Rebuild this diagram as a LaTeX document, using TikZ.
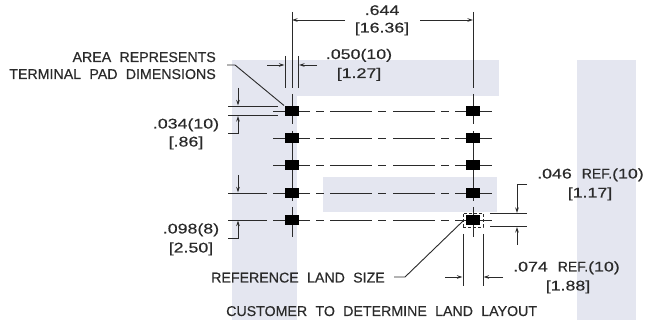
\documentclass[tikz,border=0pt]{standalone}
\usepackage{fontspec}
\setmainfont[WordSpace=2.1,FakeBold=0.35]{Liberation Sans}
\newfontfamily\dimfont[FakeStretch=1.27,FakeBold=0.35]{Liberation Sans}
\usetikzlibrary{arrows.meta}
\definecolor{wm}{HTML}{E4E6F0}
\definecolor{ink}{HTML}{2A2A2A}
\tikzset{
  x=1pt,y=-1pt,
  band/.style={fill=wm,draw=none},
  pad/.style={fill=black,draw=none,minimum width=14pt,minimum height=10pt,inner sep=0pt,outer sep=0pt},
  thin line/.style={draw=ink,line width=0.9pt},
  centre/.style={thin line,dash pattern=on 37pt off 6pt on 8pt off 6pt on 42pt off 6pt on 8pt off 7pt on 42pt off 6pt on 8pt off 6pt on 37pt},
  dimarrow/.style={thin line,-{Stealth[length=5.5pt,width=3.5pt]}},
  refbox/.style={draw=ink,line width=0.6pt,densely dashed,minimum width=20pt,minimum height=14pt,inner sep=0pt,fill=none},
  lbl/.style={font=\fontsize{14.2}{16}\selectfont,text=ink,inner sep=0pt,anchor=base},
  num/.style={font=\dimfont\fontsize{14}{16}\selectfont,text=ink,inner sep=0pt,anchor=base}
}
\newcommand{\refword}{\hspace{10pt}{\normalfont REF.}}
\begin{document}
\begin{tikzpicture}
\useasboundingbox (0,0) rectangle (645,320);
\fill[white] (0,0) rectangle (645,320);
% watermark
\fill[band] (232,60) rectangle (297,320);
\fill[band] (297,60) rectangle (499,96);
\fill[band] (323,177) rectangle (497,212);
\fill[band] (577,60) rectangle (636,320);
% centre lines
\foreach \r/\y in {a/111,b/138,c/165,d/193,e/220}{
  \coordinate (l\r) at (273,\y);
  \coordinate (r\r) at (492,\y);
  \draw[centre] (l\r) -- (r\r);
}
% vertical centre lines
\foreach \x/\n in {292/p,473/q}{
  \coordinate (\n1) at (\x,94);  \coordinate (\n2) at (\x,124);
  \coordinate (\n3) at (\x,131); \coordinate (\n4) at (\x,201);
  \coordinate (\n5) at (\x,207); \coordinate (\n6) at (\x,237);
  \draw[thin line] (\n1) -- (\n2) (\n3) -- (\n4) (\n5) -- (\n6);
}
% pads
\foreach \r/\y in {a/111,b/138,c/165,d/193,e/220}{
  \node[pad] (pl\r) at (292,\y) {};
  \node[pad] (pr\r) at (473,\y) {};
}
\node[refbox] (ref) at (473,220) {};
% top dimension
\coordinate (t1a) at (292,12); \coordinate (t1b) at (292,88);
\coordinate (t2a) at (473,12); \coordinate (t2b) at (473,88);
\draw[thin line] (t1a) -- (t1b) (t2a) -- (t2b);
\coordinate (t3) at (345,20); \coordinate (t4) at (292,20);
\coordinate (t5) at (420,20); \coordinate (t6) at (473,20);
\draw[dimarrow] (t3) -- (t4);
\draw[dimarrow] (t5) -- (t6);
\node[num] (n644) at (382,15) {.644};
\node[num] (n1636) at (382,32.5) {[16.36]};
% .050
\coordinate (w1a) at (285,56); \coordinate (w1b) at (285,88);
\coordinate (w2a) at (298.5,56); \coordinate (w2b) at (298.5,88);
\draw[thin line] (w1a) -- (w1b) (w2a) -- (w2b);
\coordinate (w3) at (267,65); \coordinate (w4) at (284.5,65);
\coordinate (w5) at (317,65); \coordinate (w6) at (299,65);
\draw[dimarrow] (w3) -- (w4);
\draw[dimarrow] (w5) -- (w6);
\node[num] (n050) at (359,59) {.050(10)};
\node[num] (n127) at (359,78) {[1.27]};
% area leader
\node[lbl,anchor=base east] (area) at (216,62) {AREA REPRESENTS};
\node[lbl,anchor=base east] (term) at (216,79) {TERMINAL PAD DIMENSIONS};
\coordinate (a1) at (227,65); \coordinate (a2) at (235,65); \coordinate (a3) at (284,105.5);
\draw[thin line] (a1) -- (a2) -- (a3);
% .034
\coordinate (h1a) at (228,106); \coordinate (h1b) at (278,106);
\coordinate (h2a) at (228,115.5); \coordinate (h2b) at (278,115.5);
\draw[thin line] (h1a) -- (h1b) (h2a) -- (h2b);
\coordinate (h3) at (238,88); \coordinate (h4) at (238,105.5);
\draw[dimarrow] (h3) -- (h4);
\coordinate (h5) at (228,133); \coordinate (h6) at (238,133); \coordinate (h7) at (238,116);
\draw[dimarrow] (h5) -- (h6) -- (h7);
\node[num] (n034) at (186,128.5) {.034(10)};
\node[num] (n86) at (186,146.5) {[.86]};
% .098
\coordinate (k1a) at (228,193); \coordinate (k1b) at (267,193);
\coordinate (k2a) at (228,220); \coordinate (k2b) at (267,220);
\draw[thin line] (k1a) -- (k1b) (k2a) -- (k2b);
\coordinate (k3) at (238,175); \coordinate (k4) at (238,192.5);
\draw[dimarrow] (k3) -- (k4);
\coordinate (k5) at (228,238); \coordinate (k6) at (238,238); \coordinate (k7) at (238,220.5);
\draw[dimarrow] (k5) -- (k6) -- (k7);
\node[num] (n098) at (191,233.5) {.098(8)};
\node[num] (n250) at (191,252.5) {[2.50]};
% reference land
\node[lbl,anchor=base west] (reflab) at (211,282.5) {REFERENCE LAND SIZE};
\coordinate (r1) at (394,277); \coordinate (r2) at (405,277); \coordinate (r3) at (463,221);
\draw[thin line] (r1) -- (r2) -- (r3);
% .074
\coordinate (v1a) at (463,234); \coordinate (v1b) at (463,286);
\coordinate (v2a) at (483,234); \coordinate (v2b) at (483,286);
\draw[thin line] (v1a) -- (v1b) (v2a) -- (v2b);
\coordinate (v3) at (445,277); \coordinate (v4) at (462.5,277);
\coordinate (v5) at (503,277); \coordinate (v6) at (483.5,277);
\draw[dimarrow] (v3) -- (v4);
\draw[dimarrow] (v5) -- (v6);
\node[num,anchor=base west] (n074) at (513,271.5) {.074\refword(10)};
\node[num] (n188) at (568,290.5) {[1.88]};
% .046
\coordinate (u1a) at (490,213.5); \coordinate (u1b) at (527,213.5);
\coordinate (u2a) at (490,226.5); \coordinate (u2b) at (527,226.5);
\draw[thin line] (u1a) -- (u1b) (u2a) -- (u2b);
\coordinate (u3) at (527,184); \coordinate (u4) at (517,184); \coordinate (u5) at (517,213);
\draw[dimarrow] (u3) -- (u4) -- (u5);
\coordinate (u6) at (517,245); \coordinate (u7) at (517,227);
\draw[dimarrow] (u6) -- (u7);
\node[num,anchor=base west] (n046) at (537,178.5) {.046\refword(10)};
\node[num] (n117) at (590,197.5) {[1.17]};
% caption
\node[lbl,anchor=base west] (cap) at (226,316) {CUSTOMER TO DETERMINE LAND LAYOUT};
\end{tikzpicture}
\end{document}
